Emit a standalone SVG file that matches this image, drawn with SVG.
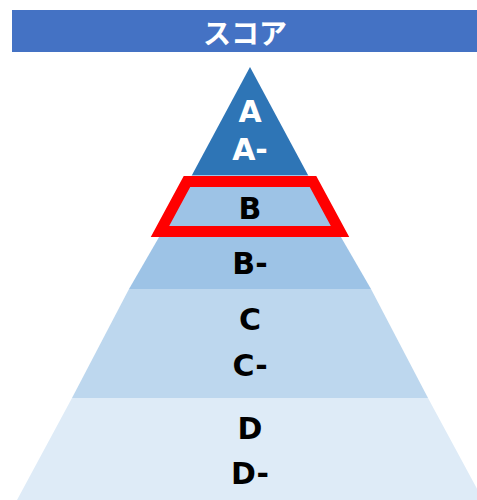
<svg xmlns="http://www.w3.org/2000/svg" width="477" height="500" viewBox="0 0 477 500">
<style>
.lbl{font-family:"DejaVu Sans","Noto Sans",sans-serif;font-weight:bold;font-size:30px;text-anchor:middle}
.w{fill:#ffffff}
.k{fill:#000000}
</style>
<rect width="477" height="500" fill="#ffffff"/>
<g id="header">
<rect x="12" y="10" width="465" height="42" fill="#4472C4"/>
<text x="245" y="44" font-family="Noto Sans CJK JP, sans-serif" font-weight="bold" font-size="28" fill="#ffffff" text-anchor="middle">スコア</text>
</g>
<g id="tier-a">
<polygon points="250,67 308,175 192,175" fill="#2E75B6"/>
<text class="lbl w" x="250" y="122">A</text>
<text class="lbl w" x="250" y="160">A-</text>
</g>
<g id="tier-b">
<polygon points="192,175 308,175 338,232 162,232" fill="#9DC3E6"/>
<text class="lbl k" x="250" y="219">B</text>
</g>
<g id="tier-bminus">
<polygon points="162,232 338,232 371,289 129,289" fill="#9DC3E6"/>
<text class="lbl k" x="250" y="274">B-</text>
</g>
<g id="tier-c">
<polygon points="129,289 371,289 428,398 72,398" fill="#BDD7EE"/>
<text class="lbl k" x="250" y="330">C</text>
<text class="lbl k" x="250" y="376">C-</text>
</g>
<g id="tier-d">
<polygon points="72,398 428,398 483,500 17,500" fill="#DEEBF7"/>
<text class="lbl k" x="250" y="439">D</text>
<text class="lbl k" x="250" y="484">D-</text>
</g>
<g id="highlight">
<polygon points="187,181.5 313,181.5 340,231.5 160,231.5" fill="none" stroke="#FF0000" stroke-width="11"/>
</g>
</svg>
